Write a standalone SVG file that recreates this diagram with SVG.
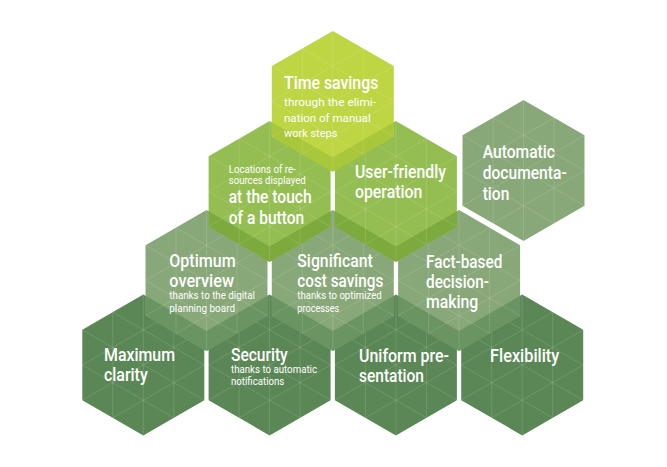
<svg xmlns="http://www.w3.org/2000/svg" xmlns:xlink="http://www.w3.org/1999/xlink" width="667" height="467" viewBox="0 0 667 467">
<style>
.t{font-family:Roboto,"Liberation Sans","DejaVu Sans",sans-serif;fill:#fff;font-weight:500;font-size:18px}
.s{font-weight:400;font-size:11.5px}
.xs{font-weight:400;font-size:10.5px}
.grid{fill:none;stroke:#fff;stroke-opacity:0.16;stroke-width:0.8}
.lime{fill:#BED544}.limeB{fill:#A9C73A}
.green{fill:#94BE52}.greenB{fill:#7CAA3C}
.sage{fill:#89A879}.sageB{fill:#6A9462}
.dark{fill:#5B8756}
</style>
<defs>
<path id="hex" d="M0,-70.4 L61,-35.2 L61,35.2 L0,70.4 L-61,35.2 L-61,-35.2 Z"/>
<path id="lat" d="M0,-70.4 V70.4 M-61,-35.2 L61,35.2 M-61,35.2 L61,-35.2 M30.5,-52.8 L30.5,52.8 L-61,0 Z M-30.5,-52.8 L61,0 L-30.5,52.8 Z"/>
<path id="band1" d="M-61,21.04 L0,56.24 L61,21.04 L61,35.2 L0,70.4 L-61,35.2 Z"/>
<path id="band2" d="M-61,19.84 L0,55.04 L61,19.84 L61,35.2 L0,70.4 L-61,35.2 Z"/>
<path id="band3" d="M-61,15.34 L0,50.54 L61,15.34 L61,35.2 L0,70.4 L-61,35.2 Z"/>
</defs>
<g id="connectors"/>

<g id="maximum-clarity" transform="translate(143.3,365)">
<use href="#hex" class="dark"/><use href="#lat" class="grid"/>
</g>
<g id="security" transform="translate(269.6,365)">
<use href="#hex" class="dark"/><use href="#lat" class="grid"/>
</g>
<g id="uniform-presentation" transform="translate(395.9,365)">
<use href="#hex" class="dark"/><use href="#lat" class="grid"/>
</g>
<g id="flexibility" transform="translate(522.2,365)">
<use href="#hex" class="dark"/><use href="#lat" class="grid"/>
</g>

<g id="optimum-overview" transform="translate(206.5,280.5)">
<use href="#hex" class="sage"/><use href="#band3" class="sageB"/><use href="#lat" class="grid"/>
</g>
<g id="significant-cost-savings" transform="translate(332.8,280.5)">
<use href="#hex" class="sage"/><use href="#band3" class="sageB"/><use href="#lat" class="grid"/>
</g>
<g id="fact-based" transform="translate(459.1,280.5)">
<use href="#hex" class="sage"/><use href="#band3" class="sageB"/><use href="#lat" class="grid"/>
</g>
<g id="automatic-documentation" transform="translate(523.5,170.5)">
<use href="#hex" class="sage"/><use href="#lat" class="grid"/>
</g>

<g id="locations" transform="translate(269.6,191.5)">
<use href="#hex" class="green"/><use href="#band2" class="greenB"/><use href="#lat" class="grid"/>
</g>
<g id="user-friendly" transform="translate(395.9,191.5)">
<use href="#hex" class="green"/><use href="#band2" class="greenB"/><use href="#lat" class="grid"/>
</g>

<g id="time-savings" transform="translate(332.8,101.3)">
<use href="#hex" class="lime"/><use href="#band1" class="limeB"/><use href="#lat" class="grid"/>
</g>

<g id="labels">
<text class="t" x="284" y="89.3" textLength="94.3" lengthAdjust="spacingAndGlyphs">Time savings</text>
<text class="t s" x="284" y="106" textLength="92" lengthAdjust="spacingAndGlyphs">through the elimi-</text>
<text class="t s" x="284" y="121.7" textLength="86.7" lengthAdjust="spacingAndGlyphs">nation of manual</text>
<text class="t s" x="284" y="137.3" textLength="53.3" lengthAdjust="spacingAndGlyphs">work steps</text>

<text class="t s" x="228.7" y="172.7" textLength="67" lengthAdjust="spacingAndGlyphs">Locations of re-</text>
<text class="t s" x="228.7" y="184" textLength="77" lengthAdjust="spacingAndGlyphs">sources displayed</text>
<text class="t" x="228.7" y="203" textLength="83" lengthAdjust="spacingAndGlyphs">at the touch</text>
<text class="t" x="228.7" y="223.5" textLength="75.6" lengthAdjust="spacingAndGlyphs">of a button</text>

<text class="t" x="355" y="177.5" textLength="91" lengthAdjust="spacingAndGlyphs">User-friendly</text>
<text class="t" x="355" y="197.5" textLength="67.3" lengthAdjust="spacingAndGlyphs">operation</text>

<text class="t" x="482.7" y="158.3" textLength="72.3" lengthAdjust="spacingAndGlyphs">Automatic</text>
<text class="t" x="482.7" y="179.3" textLength="84" lengthAdjust="spacingAndGlyphs">documenta-</text>
<text class="t" x="482.7" y="200" textLength="26.6" lengthAdjust="spacingAndGlyphs">tion</text>

<text class="t" x="169.3" y="267.3" textLength="66.4" lengthAdjust="spacingAndGlyphs">Optimum</text>
<text class="t" x="169.3" y="287.3" textLength="64.7" lengthAdjust="spacingAndGlyphs">overview</text>
<text class="t xs" x="169.3" y="298.7" textLength="85.7" lengthAdjust="spacingAndGlyphs">thanks to the digital</text>
<text class="t xs" x="169.3" y="311.7" textLength="65.7" lengthAdjust="spacingAndGlyphs">planning board</text>

<text class="t" x="297.3" y="267.3" textLength="75.4" lengthAdjust="spacingAndGlyphs">Significant</text>
<text class="t" x="297.3" y="287.3" textLength="86" lengthAdjust="spacingAndGlyphs">cost savings</text>
<text class="t xs" x="297.3" y="299" textLength="84.4" lengthAdjust="spacingAndGlyphs">thanks to optimized</text>
<text class="t xs" x="297.3" y="311.7" textLength="42" lengthAdjust="spacingAndGlyphs">processes</text>

<text class="t" x="426" y="267.7" textLength="76.3" lengthAdjust="spacingAndGlyphs">Fact-based</text>
<text class="t" x="426" y="287.7" textLength="63" lengthAdjust="spacingAndGlyphs">decision-</text>
<text class="t" x="426" y="307.7" textLength="52.3" lengthAdjust="spacingAndGlyphs">making</text>

<text class="t" x="104" y="361" textLength="71" lengthAdjust="spacingAndGlyphs">Maximum</text>
<text class="t" x="104" y="381" textLength="43.7" lengthAdjust="spacingAndGlyphs">clarity</text>

<text class="t" x="231" y="361" textLength="56.7" lengthAdjust="spacingAndGlyphs">Security</text>
<text class="t xs" x="231" y="372.7" textLength="86" lengthAdjust="spacingAndGlyphs">thanks to automatic</text>
<text class="t xs" x="231" y="385.3" textLength="53.3" lengthAdjust="spacingAndGlyphs">notifications</text>

<text class="t" x="359" y="361.7" textLength="90" lengthAdjust="spacingAndGlyphs">Uniform pre-</text>
<text class="t" x="359" y="381.7" textLength="65" lengthAdjust="spacingAndGlyphs">sentation</text>

<text class="t" x="490" y="361.7" textLength="69.3" lengthAdjust="spacingAndGlyphs">Flexibility</text>
</g>
</svg>
